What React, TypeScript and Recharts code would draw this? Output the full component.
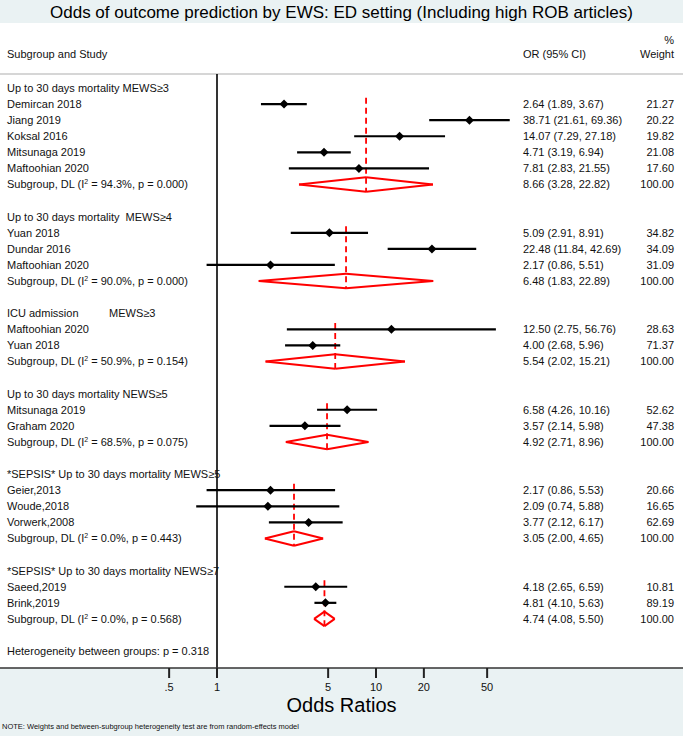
import React from 'react';
import { ComposedChart, XAxis, YAxis, Scatter, ReferenceLine } from 'recharts';

const FONT = '"Liberation Sans", Arial, sans-serif';

const groupTitles = [
  'Up to 30 days mortality MEWS≥3',
  'Up to 30 days mortality  MEWS≥4',
  'ICU admission          MEWS≥3',
  'Up to 30 days mortality NEWS≥5',
  '*SEPSIS* Up to 30 days mortality MEWS≥5',
  '*SEPSIS* Up to 30 days mortality NEWS≥7',
];
const groupI2 = ['94.3', '90.0', '50.9', '68.5', '0.0', '0.0'];
const groupP = ['0.000', '0.000', '0.154', '0.075', '0.443', '0.568'];
const groupOR = [8.66, 6.48, 5.54, 4.92, 3.05, 4.74];
const groupLow = [3.28, 1.83, 2.02, 2.71, 2.0, 4.08];
const groupHigh = [22.82, 22.89, 15.21, 8.96, 4.65, 5.5];

const studyNames = [
  'Demircan 2018', 'Jiang 2019', 'Koksal 2016', 'Mitsunaga 2019', 'Maftoohian 2020',
  'Yuan 2018', 'Dundar 2016', 'Maftoohian 2020',
  'Maftoohian 2020', 'Yuan 2018',
  'Mitsunaga 2019', 'Graham 2020',
  'Geier,2013', 'Woude,2018', 'Vorwerk,2008',
  'Saeed,2019', 'Brink,2019',
];
const studyGroup = [0, 0, 0, 0, 0, 1, 1, 1, 2, 2, 3, 3, 4, 4, 4, 5, 5];
const studyOR = [2.64, 38.71, 14.07, 4.71, 7.81, 5.09, 22.48, 2.17, 12.5, 4.0, 6.58, 3.57, 2.17, 2.09, 3.77, 4.18, 4.81];
const studyLow = [1.89, 21.61, 7.29, 3.19, 2.83, 2.91, 11.84, 0.86, 2.75, 2.68, 4.26, 2.14, 0.86, 0.74, 2.12, 2.65, 4.1];
const studyHigh = [3.67, 69.36, 27.18, 6.94, 21.55, 8.91, 42.69, 5.51, 56.76, 5.96, 10.16, 5.98, 5.53, 5.88, 6.17, 6.59, 5.63];
const studyWeight = [21.27, 20.22, 19.82, 21.08, 17.6, 34.82, 34.09, 31.09, 28.63, 71.37, 52.62, 47.38, 20.66, 16.65, 62.69, 10.81, 89.19];

const hetP = '0.318';
const xTicks = [0.5, 1, 5, 10, 20, 50];

// layout: 1 -> x 217, 159px per decade, plot spans full width
const X_LO = Math.pow(10, -217 / 159);
const X_HI = Math.pow(10, (683 - 217) / 159);
const Y_LO = -0.87;
const Y_HI = 36.05;

type Row = {
  kind: 'title' | 'study' | 'pooled' | 'blank' | 'het';
  label?: string;
  or?: number;
  lo?: number;
  hi?: number;
  w?: number;
  g?: number;
};

const rows: Row[] = [];
groupTitles.forEach((t, g) => {
  rows.push({ kind: 'title', label: t, g });
  studyNames.forEach((name, i) => {
    if (studyGroup[i] !== g) return;
    rows.push({ kind: 'study', label: name, or: studyOR[i], lo: studyLow[i], hi: studyHigh[i], w: studyWeight[i], g });
  });
  rows.push({ kind: 'pooled', or: groupOR[g], lo: groupLow[g], hi: groupHigh[g], w: 100, g });
  rows.push({ kind: 'blank' });
});
rows.push({ kind: 'het', label: `Heterogeneity between groups: p = ${hetP}` });

// text rows are placed with the y scale; x value is just an anchor inside the domain
const textPoints = rows.map((r, i) => ({ x: 1, y: i, idx: i })).filter(d => rows[d.idx].kind !== 'blank');
const studyPoints = rows.map((r, i) => ({ r, y: i })).filter(d => d.r.kind === 'study').map(d => ({ x: d.r.or, y: d.y }));
const titleRow = (g: number) => rows.findIndex(r => r.kind === 'title' && r.g === g);
const pooledRow = (g: number) => rows.findIndex(r => r.kind === 'pooled' && r.g === g);

const fmt = (v: number) => v.toFixed(2);

const RowText = (props: any) => {
  const { cy } = props;
  const idx = props.payload?.idx ?? props.idx ?? props.node?.y;
  const r = rows[idx];
  if (!r) return <g />;
  const ts = { fontSize: 11, fill: '#111', fontFamily: FONT };
  let left: React.ReactNode = r.label;
  if (r.kind === 'pooled') {
    const g = r.g as number;
    left = (
      <>
        <tspan>Subgroup, DL (I</tspan>
        <tspan dy={-4} fontSize={7}>2</tspan>
        <tspan dy={4}>{` = ${groupI2[g]}%, p = ${groupP[g]})`}</tspan>
      </>
    );
  }
  return (
    <g>
      <text x={7} y={cy} dy="0.35em" {...ts} style={{ whiteSpace: 'pre' }}>{left}</text>
      {r.or !== undefined && (
        <text x={523} y={cy} dy="0.35em" {...ts}>{`${fmt(r.or)} (${fmt(r.lo as number)}, ${fmt(r.hi as number)})`}</text>
      )}
      {r.w !== undefined && (
        <text x={674} y={cy} dy="0.35em" textAnchor="end" {...ts}>{fmt(r.w)}</text>
      )}
    </g>
  );
};

const MarkerDiamond = (props: any) => {
  const { cx, cy } = props;
  const s = 4.5;
  return <path d={`M${cx - s},${cy}L${cx},${cy - s}L${cx + s},${cy}L${cx},${cy + s}Z`} fill="#000" />;
};

const H = 0.45;

export default function App() {
  const text = (s: React.CSSProperties): React.CSSProperties => ({
    position: 'absolute', fontFamily: FONT, color: '#111', whiteSpace: 'pre', ...s,
  });
  return (
    <div style={{ position: 'absolute', left: 0, top: 0, width: 683, height: 736, background: '#EAF2F3', overflow: 'hidden' }}>
      <div style={{ position: 'absolute', left: 0, top: 23, width: 683, height: 645, background: '#fff' }} />
      <div style={{ position: 'absolute', left: 0, top: 0 }}>
        <ComposedChart width={683} height={736} margin={{ top: 74, right: 0, bottom: 28, left: 0 }}>
          <XAxis
            type="number"
            dataKey="x"
            scale="log"
            domain={[X_LO, X_HI]}
            allowDataOverflow
            ticks={xTicks}
            interval={0}
            tickFormatter={(v: number) => (v === 0.5 ? '.5' : String(v))}
            height={40}
            tickSize={10}
            tickMargin={5}
            axisLine={{ stroke: '#333', strokeWidth: 1.5 }}
            tickLine={{ stroke: '#222', strokeWidth: 2 }}
            tick={{ fontSize: 11, fill: '#111', fontFamily: FONT }}
          />
          <YAxis type="number" dataKey="y" domain={[Y_LO, Y_HI]} reversed allowDataOverflow width={0} hide />
          <ReferenceLine y={Y_LO} stroke="#c8c8c8" strokeWidth={1.5} ifOverflow="visible" />
          <ReferenceLine x={1} stroke="#000" strokeWidth={1.6} />
          {groupOR.map((v, g) => (
            <ReferenceLine
              key={`d${g}`}
              segment={[{ x: v, y: titleRow(g) + 0.6 }, { x: v, y: pooledRow(g) + H }]}
              stroke="#ff0000"
              strokeWidth={1.8}
              strokeDasharray="6 4"
              ifOverflow="visible"
            />
          ))}
          {groupOR.map((v, g) => {
            const r = pooledRow(g);
            const pts = [
              { x: groupLow[g], y: r }, { x: v, y: r - H }, { x: groupHigh[g], y: r }, { x: v, y: r + H }, { x: groupLow[g], y: r },
            ];
            return pts.slice(0, 4).map((p, k) => (
              <ReferenceLine
                key={`p${g}-${k}`}
                segment={[p, pts[k + 1]]}
                stroke="#ff0000"
                strokeWidth={2}
                ifOverflow="visible"
              />
            ));
          })}
          {rows.map((r, i) =>
            r.kind === 'study' ? (
              <ReferenceLine
                key={`ci${i}`}
                segment={[{ x: r.lo as number, y: i }, { x: r.hi as number, y: i }]}
                stroke="#000"
                strokeWidth={2.2}
                ifOverflow="visible"
              />
            ) : null,
          )}
          <Scatter data={studyPoints} shape={<MarkerDiamond />} isAnimationActive={false} />
          <Scatter data={textPoints} shape={<RowText />} isAnimationActive={false} />
        </ComposedChart>
      </div>
      <div style={text({ left: 0, width: 683, top: 4, fontSize: 17, lineHeight: '17px', textAlign: 'center', color: '#000' })}>
        Odds of outcome prediction by EWS: ED setting (Including high ROB articles)
      </div>
      <div style={text({ left: 7, top: 49, fontSize: 11, lineHeight: '11px' })}>Subgroup and Study</div>
      <div style={text({ left: 523, top: 49, fontSize: 11, lineHeight: '11px' })}>OR (95% CI)</div>
      <div style={text({ right: 9, top: 35, fontSize: 11, lineHeight: '11px' })}>%</div>
      <div style={text({ right: 9, top: 49, fontSize: 11, lineHeight: '11px' })}>Weight</div>
      <div style={text({ left: 0, width: 683, top: 695, fontSize: 20, lineHeight: '20px', textAlign: 'center', color: '#000' })}>
        Odds Ratios
      </div>
      <div style={text({ left: 2, top: 723, fontSize: 7.5, lineHeight: '8px' })}>
        NOTE: Weights and between-subgroup heterogeneity test are from random-effects model
      </div>
    </div>
  );
}
